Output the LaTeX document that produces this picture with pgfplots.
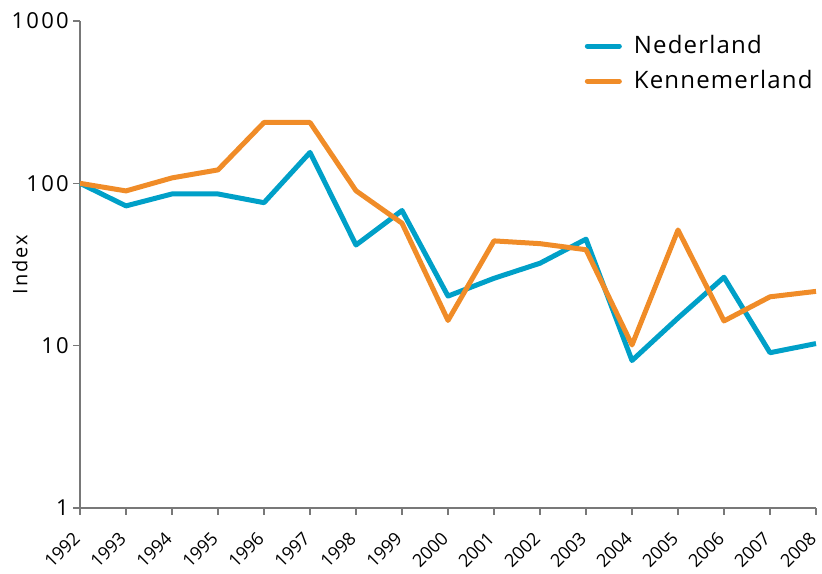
\documentclass[border=0pt]{standalone}
\usepackage{fontspec}
\setmainfont{Open Sans}
\newfontfamily\spaced[LetterSpace=5]{Open Sans}
\newfontfamily\spacedb[LetterSpace=10]{Open Sans}
\usepackage{pgfplots}
\pgfplotsset{compat=1.18}
\definecolor{ned}{RGB}{0,160,200}
\definecolor{ken}{RGB}{240,140,40}
\definecolor{axgray}{RGB}{120,120,120}
\begin{document}
\begin{tikzpicture}
\begin{axis}[name=ax, at={(0,0)}, anchor=south west,
  scale only axis, width=368pt, height=243.5pt,
  ymode=log, ymin=1, ymax=1000, xmin=1992, xmax=2008,
  clip=false,
  axis lines=left,
  axis line style={draw=axgray, -, line width=0.6pt},
  tick style={draw=axgray, line width=0.6pt},
  tick align=outside, major tick length=3.5pt,
  yminorticks=false,
  xtick={1992,1993,1994,1995,1996,1997,1998,1999,2000,2001,2002,2003,2004,2005,2006,2007,2008},
  xticklabels={1992,1993,1994,1995,1996,1997,1998,1999,2000,2001,2002,2003,2004,2005,2006,2007,2008},
  ytick={1,10,100,1000},
  yticklabels={1,10,100,1000},
  xticklabel style={font=\fontsize{9}{10}\selectfont, inner sep=0pt, xshift=-1.5pt, yshift=-10pt, rotate=45, anchor=east},
  yticklabel style={font=\spacedb\fontsize{11}{12}\selectfont, inner sep=1pt, xshift=-1pt},
  ylabel={\spacedb Index},
  ylabel style={font=\fontsize{11}{12}\selectfont},
  every axis y label/.style={at={(rel axis cs:0,0.5)}, xshift=-30pt, rotate=90, anchor=center},
  legend cell align=left,
  legend style={draw=none, fill=none, at={(1,1)}, anchor=north east,
    font=\spaced\fontsize{12}{14}\selectfont, row sep=3pt, inner sep=0pt, xshift=0.5pt, yshift=-5pt,
    /tikz/every odd column/.append style={column sep=4pt}},
  legend image code/.code={\draw[#1, line width=2.5pt, line cap=round] (0pt,0pt) -- (16pt,0pt);},
]
\addplot[ned, line width=2.5pt, line join=round] coordinates {
(1992,100) (1993,72.6) (1994,86) (1995,86) (1996,76) (1997,155) (1998,41.7) (1999,68)
(2000,20.2) (2001,26) (2002,32.2) (2003,45.3) (2004,8.1) (2005,14.8) (2006,26.4) (2007,9.05) (2008,10.3)};
\addlegendentry{Nederland}
\addplot[ken, line width=2.5pt, line join=round] coordinates {
(1992,100) (1993,89.8) (1994,108) (1995,121) (1996,237) (1997,237) (1998,90) (1999,56.8)
(2000,14.3) (2001,44.2) (2002,42.5) (2003,39) (2004,10.1) (2005,51.6) (2006,14.2) (2007,20) (2008,21.6)};
\addlegendentry{Kennemerland}
\end{axis}
\path ([xshift=-40pt,yshift=-32.5pt]ax.south west) rectangle ([xshift=3pt,yshift=10.5pt]ax.north east);
\end{tikzpicture}
\end{document}
